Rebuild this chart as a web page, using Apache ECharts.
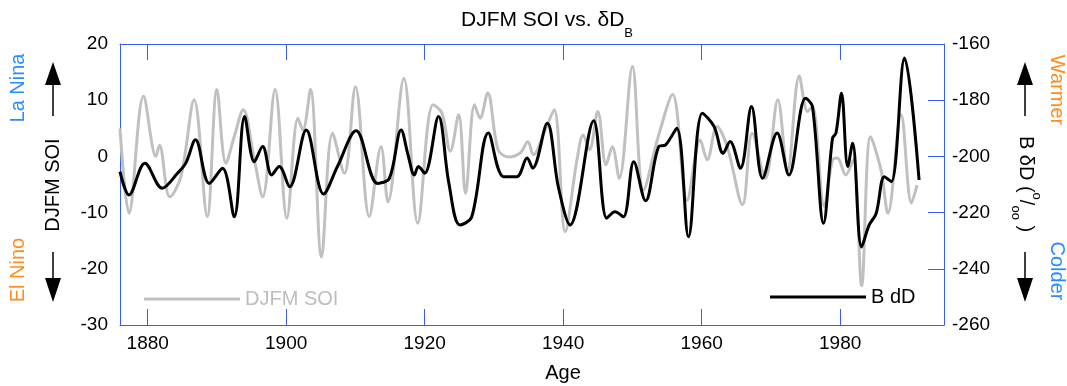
<!DOCTYPE html>
<html>
<head>
<meta charset="utf-8">
<script src="https://cdn.jsdelivr.net/npm/echarts@6/dist/echarts.min.js"></script>
<style>
	html, body {margin: 0; padding: 0; background: #fff;}
	#chart {width: 1067px; height: 386px;}
</style>
</head>
<body>
<div id="chart"></div>
<script>
// DJFM SOI (left axis)
const soiYears = [1876.0, 1877.3, 1879.4, 1881.2, 1881.7, 1883.2, 1884.8, 1886.7, 1888.6, 1890.0,
	1891.3, 1892.5, 1893.8, 1895.4, 1896.6, 1898.4, 1900.1, 1901.7, 1902.4, 1903.5,
	1905.1, 1906.7, 1908.4, 1910.0, 1912.0, 1913.7, 1914.7, 1917.0, 1919.0, 1921.2,
	1922.5, 1923.7, 1924.9, 1925.9, 1927.2, 1928.0, 1929.1, 1930.6, 1932.1, 1933.8,
	1934.9, 1935.7, 1937.4, 1938.7, 1940.3, 1942.0, 1942.9, 1943.8, 1945.0, 1946.2,
	1947.1, 1948.1, 1950.0, 1951.6, 1953.8, 1955.8, 1957.9, 1959.8, 1960.8, 1962.2,
	1963.7, 1965.9, 1967.3, 1969.2, 1971.0, 1972.4, 1974.1, 1975.3, 1976.0, 1977.7,
	1978.9, 1979.6, 1980.8, 1981.9, 1983.1, 1984.4, 1985.9, 1986.9, 1988.8, 1990.3, 1991.1];
const soiValues = [5.0, -10.1, 10.7, 0.0, 2.0, -7.2, -3.6, 10.1, -10.7, 11.9,
	-1.2, 3.5, 8.3, -0.6, -7.2, 11.9, -11.0, 6.8, 4.7, 11.9,
	-17.9, 4.1, -3.0, 12.4, -10.7, 1.7, -8.1, 13.9, -11.9, 9.2,
	7.7, 0.9, 7.4, -6.6, 9.2, 6.8, 11.3, 1.2, -0.1, 0.6,
	2.6, 0.3, 4.7, 8.3, -13.4, -0.6, 3.8, 1.2, 8.0, -1.5,
	1.7, -3.9, 16.0, -6.0, 3.8, 11.0, -7.8, 2.9, -0.6, 5.3,
	1.7, -8.6, 4.1, -3.9, 10.1, -2.7, 14.3, 8.0, 8.9, -8.9,
	-0.6, -0.3, -3.3, -0.6, -23.0, 3.5, -2.4, -10.1, 7.4, -8.3, -5.1];

// B dD (right axis)
const bddYears = [1876.0, 1877.3, 1879.6, 1882.1, 1884.3, 1885.5, 1886.9, 1888.9, 1890.8, 1892.5,
	1894.0, 1895.4, 1896.6, 1897.9, 1899.0, 1900.5, 1902.9, 1905.4, 1907.4, 1910.1,
	1913.2, 1914.9, 1916.6, 1917.6, 1918.5, 1919.1, 1920.0, 1922.0, 1923.5, 1925.1,
	1926.8, 1929.2, 1931.4, 1933.3, 1934.8, 1935.6, 1937.7, 1939.3, 1941.0, 1944.4,
	1946.3, 1947.5, 1948.7, 1950.2, 1951.9, 1953.8, 1954.8, 1956.4, 1958.1, 1960.1,
	1961.8, 1963.1, 1964.1, 1965.6, 1967.2, 1968.8, 1970.9, 1972.6, 1975.0, 1976.0,
	1977.6, 1978.9, 1979.4, 1980.2, 1981.1, 1981.8, 1983.1, 1984.2, 1985.2, 1986.4,
	1987.4, 1989.3, 1991.4];
const bddValues = [-205.4, -213.7, -202.4, -211.3, -206.0, -202.4, -194.1, -209.6, -204.2, -221.5,
	-185.8, -201.9, -196.5, -206.6, -203.6, -210.8, -190.6, -213.4, -203.6, -190.9,
	-209.6, -207.8, -190.6, -199.5, -206.6, -203.6, -206.0, -185.8, -209.6, -224.4,
	-221.5, -191.7, -207.2, -207.2, -200.6, -204.2, -188.2, -210.8, -224.4, -187.3,
	-222.0, -219.7, -221.5, -201.9, -215.8, -196.5, -195.9, -190.0, -228.6, -184.6,
	-189.4, -198.9, -194.7, -204.2, -182.2, -207.8, -191.7, -206.6, -179.3, -182.2,
	-223.8, -193.5, -191.7, -177.5, -203.6, -195.3, -232.2, -224.4, -220.3, -207.2,
	-209.0, -165.0, -208.4];

const yearTicks = [1880, 1900, 1920, 1940, 1960, 1980];

const FONT = 'Liberation Sans, Arial, sans-serif';
const AXIS_BLUE = '#3a5cec';
const ORANGE = '#ff8c1e';
const BLUE = '#2a8cff';

const chart = echarts.init(document.getElementById('chart'));

function arrow(cx, yTip, yBase, yEnd) {
	// triangle head + thin shaft
	return [
		{type: 'polygon', shape: {points: [[cx, yTip], [cx - 8, yBase], [cx + 8, yBase]]}, style: {fill: '#000'}},
		{type: 'line', shape: {x1: cx, y1: yBase, x2: cx, y2: yEnd}, style: {stroke: '#000', lineWidth: 1.5}}
	];
}

function vtext(x, y, text, color, rot, rich) {
	return {
		type: 'text', x: x, y: y, rotation: rot,
		style: {text: text, fill: color, font: '20px ' + FONT, align: 'center', verticalAlign: 'middle', rich: rich}
	};
}

const graphics = [].concat(
	arrow(53, 62, 85, 116),
	arrow(53, 302, 278, 252),
	arrow(1025, 62, 85, 116),
	arrow(1025, 302, 278, 252),
	[
		vtext(18, 88, 'La Nina', BLUE, Math.PI / 2),
		vtext(18, 270, 'El Nino', ORANGE, Math.PI / 2),
		vtext(53, 185, 'DJFM SOI', '#000', Math.PI / 2),
		vtext(1057, 90, 'Warmer', ORANGE, -Math.PI / 2),
		vtext(1057, 271, 'Colder', BLUE, -Math.PI / 2),
		vtext(1026, 184, '{n|B δD (}{sup|o}{n|/}{sub|oo}{n| )}', '#000', -Math.PI / 2, {
			n: {fontSize: 20, fontFamily: FONT, lineHeight: 34, fill: '#000'},
			sup: {fontSize: 13, fontFamily: FONT, lineHeight: 13, verticalAlign: 'top', fill: '#000'},
			sub: {fontSize: 13, fontFamily: FONT, lineHeight: 13, verticalAlign: 'bottom', fill: '#000'}
		}),
		{type: 'text', x: 563, y: 373, style: {text: 'Age', fill: '#000', font: '20px ' + FONT, align: 'center', verticalAlign: 'middle'}}
	]
);

chart.setOption({
	animation: false,
	textStyle: {fontFamily: FONT},
	title: {
		text: '{m|DJFM SOI vs. δD}{s|B}',
		left: 461,
		top: 0,
		padding: 0,
		textStyle: {
			fontWeight: 'normal',
			rich: {
				m: {fontSize: 21, fontFamily: FONT, fontWeight: 'normal', color: '#000', lineHeight: 40},
				s: {fontSize: 13, fontFamily: FONT, fontWeight: 'normal', color: '#000', lineHeight: 13, verticalAlign: 'bottom'}
			}
		}
	},
	legend: [
		{
			data: ['DJFM SOI'], left: 144, top: 289, padding: 0, selectedMode: false,
			icon: 'rect', itemWidth: 96, itemHeight: 3,
			textStyle: {color: '#bdbdbd', fontSize: 20, fontFamily: FONT}
		},
		{
			data: ['B dD'], left: 770, top: 287, padding: 0, selectedMode: false,
			icon: 'rect', itemWidth: 96, itemHeight: 3,
			textStyle: {color: '#000', fontSize: 20, fontFamily: FONT}
		}
	],
	grid: {left: 120, top: 44, width: 824, height: 281, containLabel: false},
	xAxis: [
		{
			type: 'value', position: 'bottom', min: 1876, max: 1995,
			axisLine: {onZero: false, lineStyle: {color: AXIS_BLUE, width: 1}},
			axisTick: {inside: true, length: 16, lineStyle: {color: AXIS_BLUE}, customValues: yearTicks},
			axisLabel: {color: '#000', fontSize: 19, margin: 9, customValues: yearTicks, formatter: v => String(v)},
			splitLine: {show: false}
		},
		{
			type: 'value', position: 'top', min: 1876, max: 1995,
			axisLine: {onZero: false, lineStyle: {color: AXIS_BLUE, width: 1}},
			axisTick: {inside: true, length: 16, lineStyle: {color: AXIS_BLUE}, customValues: yearTicks},
			axisLabel: {show: false},
			splitLine: {show: false}
		}
	],
	yAxis: [
		{
			type: 'value', position: 'left', min: -30, max: 20, interval: 10,
			axisLine: {show: true, onZero: false, lineStyle: {color: AXIS_BLUE, width: 1}},
			axisTick: {show: false},
			axisLabel: {color: '#000', fontSize: 19, margin: 12},
			splitLine: {show: false}
		},
		{
			type: 'value', position: 'right', min: -260, max: -160, interval: 20,
			axisLine: {show: true, onZero: false, lineStyle: {color: AXIS_BLUE, width: 1}},
			axisTick: {show: true, inside: true, length: 16, lineStyle: {color: AXIS_BLUE}},
			axisLabel: {color: '#000', fontSize: 19, margin: 8},
			splitLine: {show: false}
		}
	],
	series: [
		{
			name: 'DJFM SOI', type: 'line', xAxisIndex: 0, yAxisIndex: 0,
			data: soiYears.map((y, i) => [y, soiValues[i]]),
			showSymbol: false, symbol: 'none', smooth: 0.35,
			color: '#c0c0c0', itemStyle: {color: '#c0c0c0'},
			lineStyle: {color: '#c0c0c0', width: 3}
		},
		{
			name: 'B dD', type: 'line', xAxisIndex: 0, yAxisIndex: 1,
			data: bddYears.map((y, i) => [y, bddValues[i]]),
			showSymbol: false, symbol: 'none', smooth: 0.35,
			color: '#000', itemStyle: {color: '#000'},
			lineStyle: {color: '#000', width: 3}
		}
	],
	graphic: graphics
});
</script>
</body>
</html>
